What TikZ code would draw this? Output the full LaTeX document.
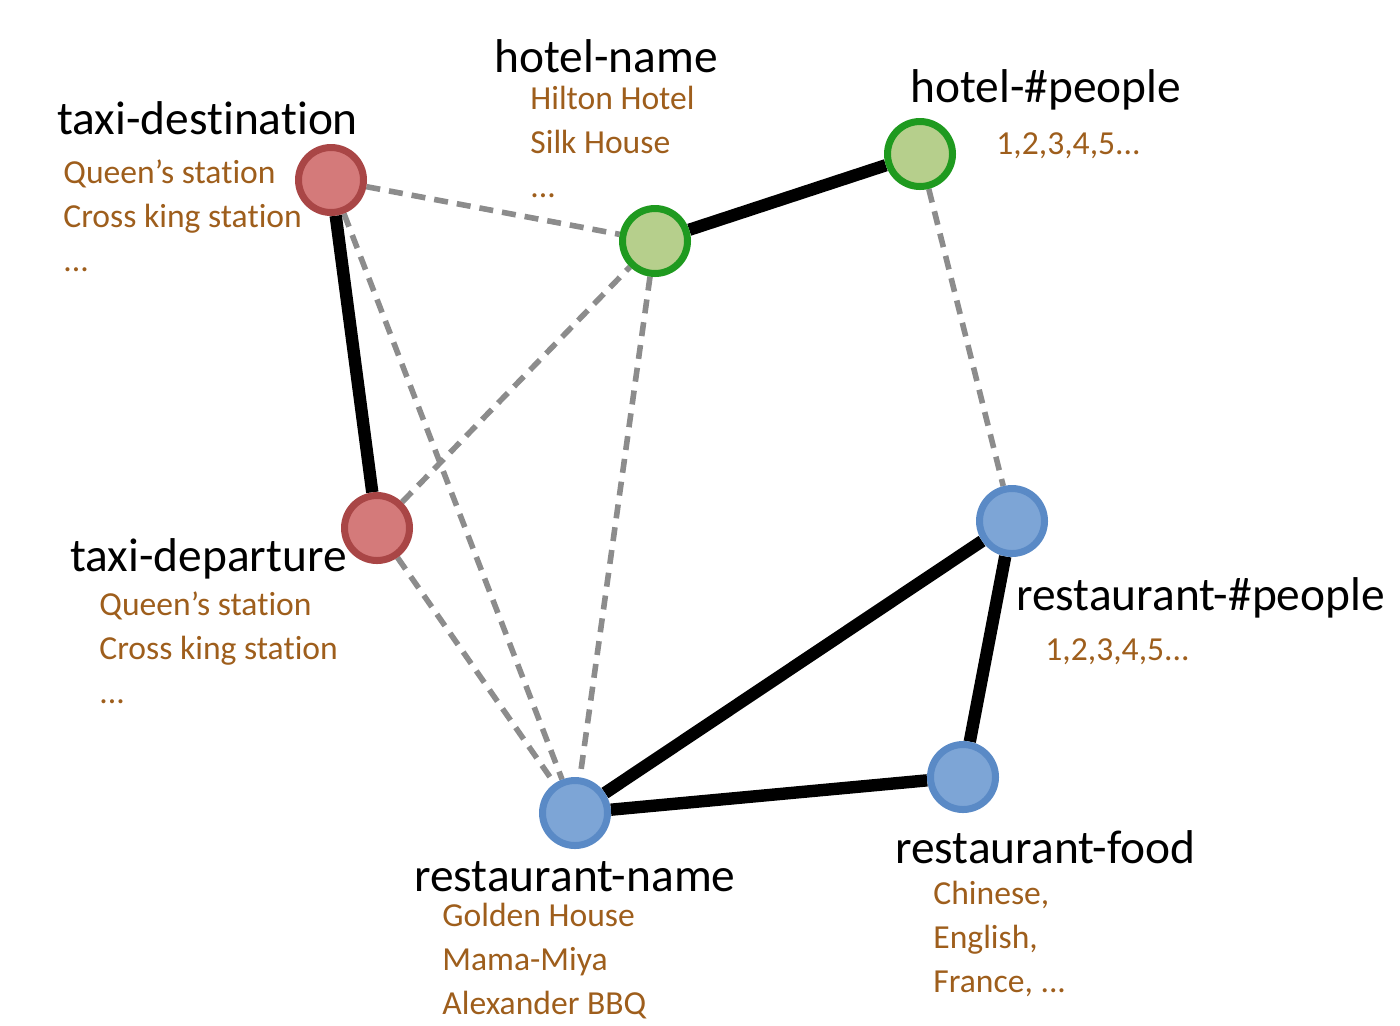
\documentclass[tikz,border=0pt]{standalone}
\usepackage{fontspec}
\setmainfont[RawFeature={-liga;-clig;-calt;-dlig}]{Carlito}
\usetikzlibrary{backgrounds}
\definecolor{redfill}{HTML}{D47A7A}
\definecolor{redline}{HTML}{A94646}
\definecolor{greenfill}{HTML}{B6CF8C}
\definecolor{greenline}{HTML}{1F9A1F}
\definecolor{bluefill}{HTML}{7DA5D6}
\definecolor{blueline}{HTML}{5A8AC6}
\definecolor{valtext}{HTML}{9E5E1C}
\definecolor{dashgray}{HTML}{8C8C8C}
\tikzset{
  slot/.style={circle, minimum size=32.5pt, inner sep=0pt, line width=3.5pt},
  redslot/.style={slot, fill=redfill, draw=redline},
  greenslot/.style={slot, fill=greenfill, draw=greenline},
  blueslot/.style={slot, fill=bluefill, draw=blueline},
  title/.style={anchor=base west, inner sep=0pt, font=\fontsize{23.7}{28}\selectfont, text=black},
  vals/.style={anchor=base west, inner sep=0pt, font=\fontsize{16.8}{20}\selectfont, text=valtext},
  strong/.style={line width=6.2pt, black},
  weak/.style={line width=2.8pt, dashgray, dash pattern=on 7pt off 4.5pt},
}
\begin{document}
\begin{tikzpicture}[x=0.5pt, y=-0.5pt]
\useasboundingbox (0,0) rectangle (1400,1025);
% nodes
\node[redslot] (td) at (331,180) {};
\node[redslot] (tdep) at (377,528) {};
\node[greenslot] (hn) at (655,241) {};
\node[greenslot] (hp) at (920,154) {};
\node[blueslot] (rp) at (1012,521) {};
\node[blueslot] (rf) at (963,777) {};
\node[blueslot] (rn) at (575,813) {};
% edges
\begin{scope}[on background layer]
\draw[weak] (td) -- (hn);
\draw[weak] (td) -- (rn);
\draw[weak] (tdep) -- (hn);
\draw[weak] (tdep) -- (rn);
\draw[weak] (hn) -- (rn);
\draw[weak] (hp) -- (rp);
\draw[strong] (td) -- (tdep);
\draw[strong] (hn) -- (hp);
\draw[strong] (rp) -- (rn);
\draw[strong] (rp) -- (rf);
\draw[strong] (rf) -- (rn);
\end{scope}
% labels
\node[title] (tdl) at (57,134) {taxi-destination};
\node[vals] (tdv1) at (63,183) {Queen’s station};
\node[vals] (tdv2) at (63,227) {Cross king station};
\node[vals] (tdv3) at (63,271) {...};

\node[title] (hnl) at (494,72) {hotel-name};
\node[vals] (hnv1) at (530,109) {Hilton Hotel};
\node[vals] (hnv2) at (530,153) {Silk House};
\node[vals] (hnv3) at (530,197) {...};

\node[title] (hpl) at (910,102) {hotel-\#people};
\node[vals] (hpv1) at (996,154) {1,2,3,4,5...};

\node[title] (tdepl) at (70,571) {taxi-departure};
\node[vals] (tdepv1) at (99,615) {Queen’s station};
\node[vals] (tdepv2) at (99,659) {Cross king station};
\node[vals] (tdepv3) at (99,703) {...};

\node[title] (rpl) at (1016,610) {restaurant-\#people};
\node[vals] (rpv1) at (1045,660) {1,2,3,4,5...};

\node[title] (rnl) at (414,891) {restaurant-name};
\node[vals] (rnv1) at (442,926) {Golden House};
\node[vals] (rnv2) at (442,970) {Mama-Miya};
\node[vals] (rnv3) at (442,1014) {Alexander BBQ};

\node[title] (rfl) at (895,863) {restaurant-food};
\node[vals] (rfv1) at (933,904) {Chinese,};
\node[vals] (rfv2) at (933,948) {English,};
\node[vals] (rfv3) at (933,992) {France, ...};
\end{tikzpicture}
\end{document}
